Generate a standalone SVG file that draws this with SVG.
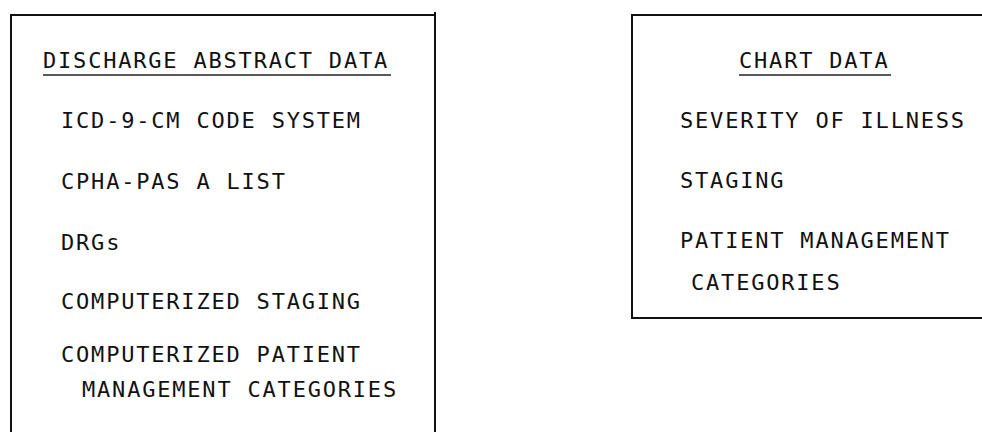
<svg xmlns="http://www.w3.org/2000/svg" width="982" height="432" viewBox="0 0 982 432">
  <style>
    .frame { fill: none; stroke: #111; stroke-width: 2; }
    .rule { stroke: #222; stroke-width: 1.6; }
    .t { font-family: "DejaVu Sans Mono", "Liberation Mono", monospace; font-size: 22px; letter-spacing: 1.8px; fill: #111; }
  </style>
  <rect width="982" height="432" fill="#fff"/>

  <!-- Left panel: discharge abstract data sources -->
  <g id="discharge-abstract-data">
    <path class="frame" d="M11,432 V15 H435 M435,12 V432"/>
    <text class="t" x="43" y="68">DISCHARGE ABSTRACT DATA</text>
    <line class="rule" x1="43" y1="75" x2="391" y2="75"/>
    <text class="t" x="61" y="128">ICD-9-CM CODE SYSTEM</text>
    <text class="t" x="61" y="189">CPHA-PAS A LIST</text>
    <text class="t" x="61" y="250">DRGs</text>
    <text class="t" x="61" y="309">COMPUTERIZED STAGING</text>
    <text class="t" x="61" y="362">COMPUTERIZED PATIENT</text>
    <text class="t" x="82" y="397">MANAGEMENT CATEGORIES</text>
  </g>

  <!-- Right panel: chart data sources -->
  <g id="chart-data">
    <path class="frame" d="M982,15 H632 V318 H982"/>
    <text class="t" x="739" y="68">CHART DATA</text>
    <line class="rule" x1="739" y1="75" x2="891" y2="75"/>
    <text class="t" x="680" y="128">SEVERITY OF ILLNESS</text>
    <text class="t" x="680" y="188">STAGING</text>
    <text class="t" x="680" y="248">PATIENT MANAGEMENT</text>
    <text class="t" x="691" y="290">CATEGORIES</text>
  </g>

  <g id="connectors"/>
</svg>
